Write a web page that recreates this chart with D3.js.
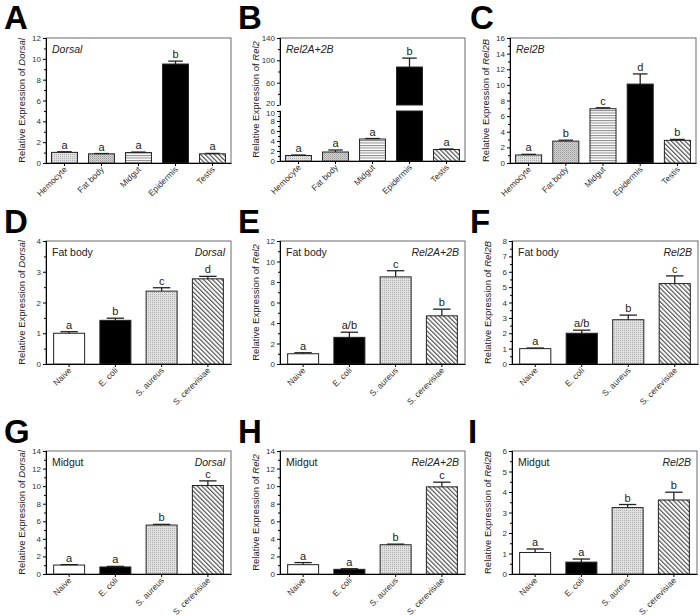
<!DOCTYPE html>
<html><head><meta charset="utf-8">
<script src="https://cdn.jsdelivr.net/npm/d3@7/dist/d3.min.js"></script>
<style>body{margin:0;background:#fff}text{font-family:Arial,"Liberation Sans",Helvetica,sans-serif}</style>
</head><body><svg id="c" width="700" height="616"></svg>
<script>
// ---------- data ----------
const tissues = ["Hemocyte", "Fat body", "Midgut", "Epidermis", "Testis"];
const treatments = ["Naive", "E. coli", "S. aureus", "S. cerevisiae"];

const dorsalTissueMean = [1.02, 0.88, 1.0, 9.5, 0.88];
const dorsalTissueErr  = [0.06, 0.03, 0.05, 0.28, 0.04];
const dorsalTissueSig  = ["a", "a", "a", "b", "a"];

const rel2TissueMean = [1.1, 1.8, 4.4, 88, 2.3];
const rel2TissueErr  = [0.1, 0.4, 0.1, 16, 0.1];
const rel2TissueSig  = ["a", "a", "a", "b", "a"];

const rel2bTissueMean = [1.03, 2.8, 6.95, 10.1, 2.9];
const rel2bTissueErr  = [0.08, 0.12, 0.12, 1.3, 0.12];
const rel2bTissueSig  = ["a", "b", "c", "d", "b"];

const dorsalFatMean = [1.0, 1.42, 2.37, 2.77];
const dorsalFatErr  = [0.05, 0.07, 0.11, 0.08];
const dorsalFatSig  = ["a", "b", "c", "d"];

const rel2FatMean = [1.0, 2.6, 8.5, 4.7];
const rel2FatErr  = [0.1, 0.5, 0.6, 0.65];
const rel2FatSig  = ["a", "a/b", "c", "b"];

const rel2bFatMean = [1.0, 2.0, 2.88, 5.23];
const rel2bFatErr  = [0.04, 0.2, 0.3, 0.5];
const rel2bFatSig  = ["a", "a/b", "b", "c"];

const dorsalGutMean = [1.02, 0.8, 5.57, 10.07];
const dorsalGutErr  = [0.05, 0.07, 0.08, 0.53];
const dorsalGutSig  = ["a", "a", "b", "c"];

const rel2GutMean = [1.06, 0.53, 3.33, 9.92];
const rel2GutErr  = [0.24, 0.07, 0.07, 0.53];
const rel2GutSig  = ["a", "a", "b", "c"];

const rel2bGutMean = [1.05, 0.58, 3.24, 3.61];
const rel2bGutErr  = [0.17, 0.15, 0.15, 0.38];
const rel2bGutSig  = ["a", "a", "b", "b"];

const ticksA = [0, 2, 4, 6, 8, 10, 12];
const ticksBUpper = [20, 60, 100, 140];
const ticksBLower = [0, 2, 4, 6, 8, 10];
const ticksC = [0, 2, 4, 6, 8, 10, 12, 14, 16];
const ticksD = [0, 1, 2, 3, 4];
const ticksE = [0, 2, 4, 6, 8, 10, 12];
const ticksF = [0, 1, 2, 3, 4, 5, 6, 7, 8];
const ticksG = [0, 2, 4, 6, 8, 10, 12, 14];
const ticksH = [0, 2, 4, 6, 8, 10, 12, 14];
const ticksI = [0, 1, 2, 3, 4, 5, 6];

// ---------- styles ----------
const tissueFills = ["url(#stipL)", "url(#stipD)", "url(#hline)", "#000", "url(#diag)"];
const treatFills = ["#fff", "#000", "url(#stipL)", "url(#diag)"];

const svg = d3.select("#c");
const defs = svg.append("defs");
function pat(id, w, h, draw) {
  const p = defs.append("pattern").attr("id", id).attr("patternUnits", "userSpaceOnUse").attr("width", w).attr("height", h);
  draw(p);
}
pat("stipL", 2, 2, p => {
  p.append("rect").attr("width", 2).attr("height", 2).attr("fill", "#e0e0e0");
  p.append("rect").attr("width", 1).attr("height", 1).attr("fill", "#b0b0b0");
});
pat("stipD", 2, 2, p => {
  p.append("rect").attr("width", 2).attr("height", 2).attr("fill", "#d4d4d4");
  p.append("rect").attr("width", 1).attr("height", 1).attr("fill", "#9a9a9a");
  p.append("rect").attr("x", 1).attr("y", 1).attr("width", 1).attr("height", 1).attr("fill", "#b4b4b4");
});
pat("hline", 4, 2.5, p => {
  p.append("rect").attr("width", 4).attr("height", 2.5).attr("fill", "#fff");
  p.append("rect").attr("width", 4).attr("height", 1).attr("fill", "#8a8a8a");
});
pat("diag", 3.2, 3.2, p => {
  p.attr("patternTransform", "rotate(-45)");
  p.append("rect").attr("width", 3.2).attr("height", 3.2).attr("fill", "#fff");
  p.append("rect").attr("width", 1.2).attr("height", 3.2).attr("fill", "#555");
});

function minorOf(ticks) {
  const out = [];
  for (let i = 0; i < ticks.length - 1; i++) out.push((ticks[i] + ticks[i + 1]) / 2);
  return out;
}

function styleAxis(g) {
  g.selectAll(".domain").attr("stroke", "#000").attr("stroke-width", 1);
  g.selectAll(".tick line").attr("stroke", "#000");
  g.selectAll(".tick text").attr("fill", "#333").style("font-size", "8px").style("font-family", "Arial, 'Liberation Sans', sans-serif");
}

function panel(o) {
  const g = svg.append("g");
  const x = d3.scaleBand().domain(o.cats).range([o.L, o.R]).paddingInner(o.pad).paddingOuter(o.pad / 2);
  let yv, scales;
  if (o.broken) {
    const yl = d3.scaleLinear().domain([0, 10]).range([o.B, o.brk[1]]);
    const yu = d3.scaleLinear().domain([20, 140]).range([o.brk[0], o.T]);
    scales = [yl, yu];
    yv = v => v <= 10 ? yl(v) : yu(v);
  } else {
    const y = d3.scaleLinear().domain([0, o.ticks[o.ticks.length - 1]]).range([o.B, o.T]);
    scales = [y];
    yv = y;
  }
  g.append("rect").attr("x", o.L).attr("y", o.T).attr("width", o.R - o.L).attr("height", o.B - o.T)
    .attr("fill", "none").attr("stroke", "#6a6a6a").attr("stroke-width", 1);

  const bw = x.bandwidth();
  o.cats.forEach((c, i) => {
    const v = o.mean[i], e = o.err[i], cx = x(c) + bw / 2;
    if (o.broken && v > 10) {
      g.append("rect").attr("x", x(c)).attr("y", scales[1](v)).attr("width", bw).attr("height", o.brk[0] - scales[1](v))
        .attr("fill", o.fills[i]).attr("stroke", "#222");
      g.append("rect").attr("x", x(c)).attr("y", o.brk[1]).attr("width", bw).attr("height", o.B - o.brk[1])
        .attr("fill", o.fills[i]).attr("stroke", "#222");
    } else {
      g.append("rect").attr("x", x(c)).attr("y", yv(v)).attr("width", bw).attr("height", o.B - yv(v))
        .attr("fill", o.fills[i]).attr("stroke", "#222").attr("stroke-width", 1);
    }
    const yt = yv(v + e);
    const cw = bw * 0.28;
    g.append("line").attr("x1", cx).attr("x2", cx).attr("y1", yv(v)).attr("y2", yt).attr("stroke", "#222").attr("stroke-width", 1.3);
    g.append("line").attr("x1", cx - cw).attr("x2", cx + cw).attr("y1", yt).attr("y2", yt).attr("stroke", "#222").attr("stroke-width", 1.3);
    g.append("text").attr("x", cx).attr("y", yt - 3).attr("text-anchor", "middle").style("font-size", "11px").attr("fill", "#222").text(o.sig[i]);
  });

  if (o.broken) {
    const gl = g.append("g").attr("transform", `translate(${o.L},0)`);
    gl.call(d3.axisLeft(scales[0]).tickValues(ticksBLower).tickSize(3).tickPadding(2).tickFormat(d3.format("d")));
    styleAxis(gl);
    gl.selectAll(".tick text").filter(d => d === 10).attr("dy", "0.62em");
    const glm = g.append("g").attr("transform", `translate(${o.L},0)`);
    glm.call(d3.axisLeft(scales[0]).tickValues(minorOf(ticksBLower)).tickSize(2).tickFormat(""));
    styleAxis(glm);
    const gu = g.append("g").attr("transform", `translate(${o.L},0)`);
    gu.call(d3.axisLeft(scales[1]).tickValues(ticksBUpper).tickSize(3).tickPadding(2).tickFormat(d3.format("d")));
    styleAxis(gu);
    gu.selectAll(".tick text").filter(d => d === 20).attr("dy", "0.1em");
    const gum = g.append("g").attr("transform", `translate(${o.L},0)`);
    gum.call(d3.axisLeft(scales[1]).tickValues(minorOf(ticksBUpper)).tickSize(2).tickFormat(""));
    styleAxis(gum);
    g.append("rect").attr("x", o.L - 1).attr("y", o.brk[0] + 0.5).attr("width", 2).attr("height", o.brk[1] - o.brk[0] - 1).attr("fill", "#fff");
  } else {
    const ga = g.append("g").attr("transform", `translate(${o.L},0)`);
    ga.call(d3.axisLeft(scales[0]).tickValues(o.ticks).tickSize(3).tickPadding(2).tickFormat(d3.format("d")));
    styleAxis(ga);
    const gm = g.append("g").attr("transform", `translate(${o.L},0)`);
    gm.call(d3.axisLeft(scales[0]).tickValues(minorOf(o.ticks)).tickSize(2).tickFormat(""));
    styleAxis(gm);
  }
  const gx = g.append("g").attr("transform", `translate(0,${o.B})`);
  gx.call(d3.axisBottom(x).tickSize(3).tickSizeOuter(0).tickFormat(""));
  styleAxis(gx);
  o.cats.forEach(c => {
    const cx = x(c) + bw / 2 + 3;
    g.append("text").attr("transform", `translate(${cx},${o.B + 7}) rotate(-45)`).attr("text-anchor", "end")
      .style("font-size", "8.5px").attr("fill", "#333").text(c);
  });

  const t = g.append("text").attr("transform", `translate(${o.L - 21},${(o.T + o.B) / 2}) rotate(-90)`)
    .attr("text-anchor", "middle").style("font-size", "9.5px").attr("fill", "#222");
  t.append("tspan").text("Relative Expression of ");
  t.append("tspan").style("font-style", "italic").text(o.gene);

  if (o.tissue) {
    g.append("text").attr("x", o.L + 6).attr("y", o.T + 15).style("font-size", "10.5px").attr("fill", "#222").text(o.tissue);
    g.append("text").attr("x", o.R - 6).attr("y", o.T + 15).attr("text-anchor", "end").style("font-size", "10.5px")
      .style("font-style", "italic").attr("fill", "#222").text(o.label);
  } else {
    g.append("text").attr("x", o.L + 6).attr("y", o.T + 15).style("font-size", "10.5px")
      .style("font-style", "italic").attr("fill", "#222").text(o.label);
  }
  svg.append("text").attr("x", o.lx).attr("y", o.ly).style("font-size", "33px").style("font-weight", "bold").attr("fill", "#000").text(o.letter);
}

panel({letter: "A", lx: 4, ly: 29, L: 46, R: 231, T: 38, B: 163, pad: 0.3, cats: tissues, mean: dorsalTissueMean, err: dorsalTissueErr, sig: dorsalTissueSig, fills: tissueFills, ticks: ticksA, gene: "Dorsal", label: "Dorsal"});
panel({letter: "B", lx: 238, ly: 29, L: 280, R: 465, T: 38, B: 161, pad: 0.3, broken: true, brk: [105, 111], cats: tissues, mean: rel2TissueMean, err: rel2TissueErr, sig: rel2TissueSig, fills: tissueFills, gene: "Rel2", label: "Rel2A+2B"});
panel({letter: "C", lx: 470, ly: 29, L: 510, R: 696, T: 38, B: 163, pad: 0.3, cats: tissues, mean: rel2bTissueMean, err: rel2bTissueErr, sig: rel2bTissueSig, fills: tissueFills, ticks: ticksC, gene: "Rel2B", label: "Rel2B"});

panel({letter: "D", lx: 4, ly: 233, L: 46, R: 231, T: 241, B: 364, pad: 0.33, cats: treatments, mean: dorsalFatMean, err: dorsalFatErr, sig: dorsalFatSig, fills: treatFills, ticks: ticksD, gene: "Dorsal", label: "Dorsal", tissue: "Fat body"});
panel({letter: "E", lx: 238, ly: 233, L: 280, R: 465, T: 241, B: 364, pad: 0.33, cats: treatments, mean: rel2FatMean, err: rel2FatErr, sig: rel2FatSig, fills: treatFills, ticks: ticksE, gene: "Rel2", label: "Rel2A+2B", tissue: "Fat body"});
panel({letter: "F", lx: 470, ly: 233, L: 512, R: 698, T: 241, B: 364, pad: 0.33, cats: treatments, mean: rel2bFatMean, err: rel2bFatErr, sig: rel2bFatSig, fills: treatFills, ticks: ticksF, gene: "Rel2B", label: "Rel2B", tissue: "Fat body"});

panel({letter: "G", lx: 4, ly: 443, L: 46, R: 231, T: 451, B: 574, pad: 0.33, cats: treatments, mean: dorsalGutMean, err: dorsalGutErr, sig: dorsalGutSig, fills: treatFills, ticks: ticksG, gene: "Dorsal", label: "Dorsal", tissue: "Midgut"});
panel({letter: "H", lx: 238, ly: 443, L: 280, R: 465, T: 451, B: 574, pad: 0.33, cats: treatments, mean: rel2GutMean, err: rel2GutErr, sig: rel2GutSig, fills: treatFills, ticks: ticksH, gene: "Rel2", label: "Rel2A+2B", tissue: "Midgut"});
panel({letter: "I", lx: 468, ly: 443, L: 512, R: 697, T: 451, B: 574, pad: 0.33, cats: treatments, mean: rel2bGutMean, err: rel2bGutErr, sig: rel2bGutSig, fills: treatFills, ticks: ticksI, gene: "Rel2B", label: "Rel2B", tissue: "Midgut"});
</script></body></html>
